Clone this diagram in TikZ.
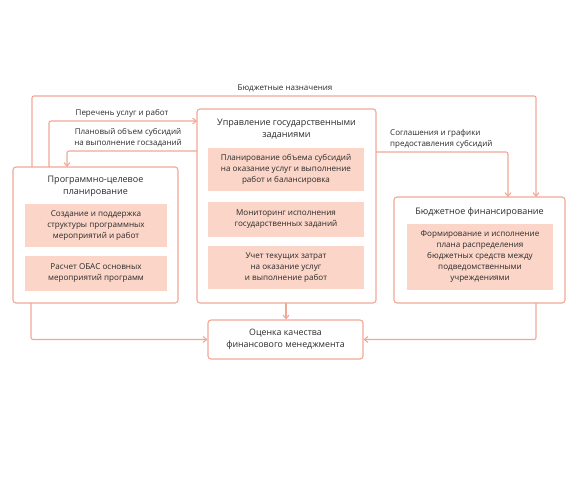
\documentclass[tikz,border=0pt]{standalone}
\usepackage{fontspec}
\setmainfont{Open Sans}
\usetikzlibrary{arrows.meta}
\definecolor{lnc}{HTML}{F0A896}
\definecolor{fillc}{HTML}{FBD5C7}
\definecolor{txtc}{HTML}{2A2A2A}
\begin{document}
\begin{tikzpicture}[x=1pt,y=-1pt,
  outer/.style={draw=lnc,line width=1.1pt,rounded corners=3pt,fill=white},
  inner/.style={fill=fillc,inner sep=0pt,text=txtc,font=\fontsize{8.1}{11}\selectfont,align=center},
  ttl/.style={text=txtc,font=\fontsize{9}{12}\selectfont,align=center,inner sep=0pt},
  lbl/.style={text=txtc,font=\fontsize{8}{11}\selectfont,inner sep=0pt},
  conn/.style={draw=lnc,line width=1.1pt,rounded corners=2pt},
  arr/.style={conn,-{Straight Barb[length=3.5pt,width=6pt]}}]
\useasboundingbox (0,0) rectangle (572,483);
% outer boxes
\path[outer] (13,167) rectangle (178,303);
\path[outer] (197,109) rectangle (376,303);
\path[outer] (394,197) rectangle (565,303);
\node[outer,minimum width=155pt,minimum height=39pt,inner sep=0pt,text=txtc,font=\fontsize{8.8}{12}\selectfont,align=center] (eval) at (285.5,339.5) {Оценка качества\\финансового менеджмента};
% left box
\node[ttl] (ltitle) at (95.5,186.5) {Программно-целевое\\планирование};
\node[inner,minimum width=142pt,minimum height=43pt] (l1) at (96,225.5) {Создание и поддержка\\структуры программных\\мероприятий и работ};
\node[inner,minimum width=142pt,minimum height=35pt] (l2) at (96,273.5) {Расчет ОБАС основных\\мероприятий программ};
% middle box
\node[ttl] (mtitle) at (286.5,129) {Управление государственными\\заданиями};
\node[inner,minimum width=156pt,minimum height=43pt] (m1) at (286,169.5) {Планирование объема субсидий\\на оказание услуг и выполнение\\работ и балансировка};
\node[inner,minimum width=156pt,minimum height=35pt] (m2) at (286,219.5) {Мониторинг исполнения\\государственных заданий};
\node[inner,minimum width=156pt,minimum height=43pt] (m3) at (286,267.5) {Учет текущих затрат\\на оказание услуг\\и выполнение работ};
% right box
\node[ttl] (rtitle) at (479.5,212) {Бюджетное финансирование};
\node[inner,minimum width=146pt,minimum height=66pt] (r1) at (480,257) {Формирование и исполнение\\плана распределения\\бюджетных средств между\\подведомственными\\учреждениями};
% connector coordinates
\coordinate (ltop1) at (32,167);
\coordinate (ltop2) at (49,167);
\coordinate (ltop3) at (67,167);
\coordinate (mleft1) at (197,121);
\coordinate (mleft2) at (197,151);
\coordinate (mright) at (376,152);
\coordinate (rtop1) at (508,197);
\coordinate (rtop2) at (536,197);
\coordinate (mbot) at (286,303);
\coordinate (lbot) at (31,303);
\coordinate (rbot) at (536,303);
\coordinate (topc) at (285,96);
% connectors
\draw[arr] (ltop1) |- (topc) -| (rtop2);
\draw[arr] (ltop2) |- (mleft1);
\draw[arr] (mleft2) -| (ltop3);
\draw[arr] (mright) -| (rtop1);
\draw[arr] (mbot) -- (eval.north -| mbot);
\draw[arr] (lbot) |- (eval.west);
\draw[arr] (rbot) |- (eval.east);
% labels
\node[lbl] (lb1) at (285,88) {Бюджетные назначения};
\node[lbl] (lb2) at (122,113) {Перечень услуг и работ};
\node[lbl,align=center] (lb3) at (128,138) {Плановый объем субсидий\\на выполнение госзаданий};
\node[lbl,align=left,anchor=west] (lb4) at (390,138.5) {Соглашения и графики\\предоставления субсидий};
\end{tikzpicture}
\end{document}
